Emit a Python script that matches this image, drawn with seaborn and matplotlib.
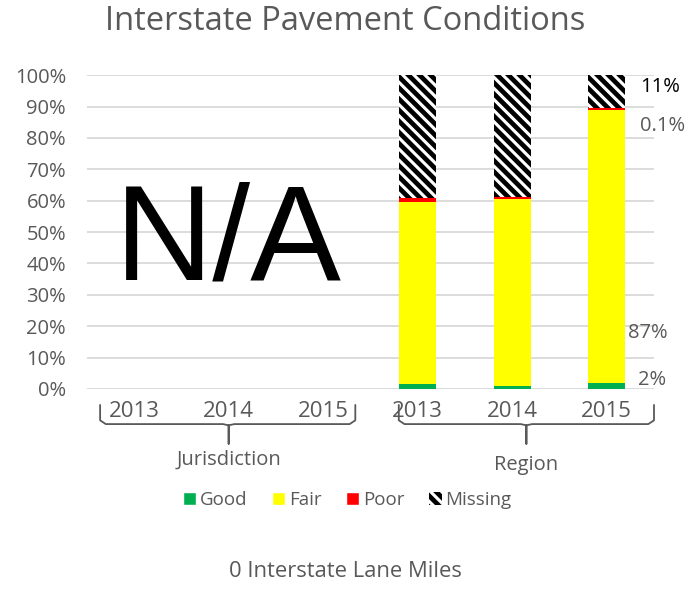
import pandas as pd
import matplotlib.pyplot as plt
import matplotlib.transforms as mtransforms
from matplotlib.patches import Patch
import seaborn as sns

# data (share of lane miles, %)
groups = ["Jurisdiction", "Jurisdiction", "Jurisdiction", "Region", "Region", "Region"]
years = ["2013", "2014", "2015", "2013", "2014", "2015"]
good = [0, 0, 0, 1.5, 1.0, 2.0]
fair = [0, 0, 0, 58.0, 59.5, 87.0]
poor = [0, 0, 0, 1.5, 0.6, 0.5]
missing = [0, 0, 0, 39.0, 38.9, 10.5]
label_texts = ["11%", "0.1%", "87%", "2%"]

colors = {"Good": "#00b050", "Fair": "#ffff00", "Poor": "#ff0000", "Missing": "white"}
gray = "#595959"

sns.set_style("white")
plt.rcParams["font.family"] = ["Open Sans", "DejaVu Sans"]
plt.rcParams["hatch.linewidth"] = 3.4
plt.rcParams["hatch.color"] = "black"

df = pd.DataFrame({"key": [g[0] + y for g, y in zip(groups, years)],
                   "Good": good, "Fair": fair, "Poor": poor, "Missing": missing})
df["c_good"] = df["Good"]
df["c_fair"] = df["c_good"] + df["Fair"]
df["c_poor"] = df["c_fair"] + df["Poor"]
df["c_missing"] = df["c_poor"] + df["Missing"]

fig = plt.figure(figsize=(6.95, 5.92), dpi=100)
ax = fig.add_axes([0.125, 0.343, 0.816, 0.530])

order = list(df["key"])
# draw cumulative bars from top segment down so each covers the one below
sns.barplot(data=df, x="key", y="c_missing", order=order, color="white", width=0.39,
            edgecolor="black", linewidth=0, hatch="\\\\\\", ax=ax, saturation=1)
sns.barplot(data=df, x="key", y="c_poor", order=order, color=colors["Poor"], width=0.39,
            linewidth=0, ax=ax, saturation=1)
sns.barplot(data=df, x="key", y="c_fair", order=order, color=colors["Fair"], width=0.39,
            linewidth=0, ax=ax, saturation=1)
sns.barplot(data=df, x="key", y="c_good", order=order, color=colors["Good"], width=0.39,
            linewidth=0, ax=ax, saturation=1)

ax.set_xlim(-0.5, 5.5)
ax.set_ylim(0, 100)
ax.set_yticks(range(0, 101, 10))
ax.set_yticklabels([f"{v}%" for v in range(0, 101, 10)], fontsize=14.5, color=gray)
ax.set_xticks(range(6))
ax.set_xticklabels(years, fontsize=16, color=gray)
ax.tick_params(axis="both", length=0)
ax.tick_params(axis="y", pad=15)
ax.tick_params(axis="x", pad=9)
ax.set_xlabel("")
ax.set_ylabel("")
ax.yaxis.grid(True, color="#d9d9d9", linewidth=1.3)
ax.set_axisbelow(True)
for s in ax.spines.values():
    s.set_visible(False)

# data labels for region 2015
ax.text(5.35, 96.2, label_texts[0], fontsize=14.5, color="black", va="center", clip_on=False)
ax.text(5.35, 83.8, label_texts[1], fontsize=14.5, color=gray, va="center", clip_on=False)
ax.text(5.22, 17.8, label_texts[2], fontsize=14.5, color=gray, va="center", clip_on=False)
ax.text(5.33, 2.9, label_texts[3], fontsize=14.5, color=gray, va="center", clip_on=False)

# N/A overlay for the jurisdiction
ax.text(1.0, 46, "N/A", fontsize=98, color="black", ha="center", va="center",
        family=["Liberation Sans Narrow", "Liberation Sans", "DejaVu Sans"])

# group brackets under the tick labels
trans = mtransforms.blended_transform_factory(ax.transData, ax.transAxes)
def bracket(x0, x1, xm, label, ly):
    top, bot, stem = -0.051, -0.112, -0.175
    r = 0.06
    xs = [x0, x0, x0 + r, xm - r, xm, xm, xm, xm + r, x1 - r, x1, x1]
    ys = [top, bot + 0.012, bot, bot, bot - 0.004, stem, bot - 0.004, bot, bot, bot + 0.012, top]
    ax.plot(xs, ys, color=gray, linewidth=1.3, transform=trans, clip_on=False)
    ax.text(xm, ly, label, fontsize=14.5, color=gray, ha="center", va="center",
            transform=trans)

bracket(-0.36, 2.34, 1.0, "Jurisdiction", -0.226)
bracket(2.8, 5.5, 4.15, "Region", -0.242)

fig.text(0.497, 0.963, "Interstate Pavement Conditions", fontsize=23.5, color=gray,
         ha="center", va="center")

handles = [Patch(facecolor=colors["Good"], label="Good"),
           Patch(facecolor=colors["Fair"], label="Fair"),
           Patch(facecolor=colors["Poor"], label="Poor"),
           Patch(facecolor="white", edgecolor="black", linewidth=0, hatch="\\\\\\", label="Missing")]
leg = fig.legend(handles=handles, loc="center", bbox_to_anchor=(0.5, 0.155), ncol=4,
                 frameon=False, fontsize=13.5, handlelength=0.7, handleheight=0.7,
                 handletextpad=0.2, columnspacing=1.3)
for t in leg.get_texts():
    t.set_color(gray)

fig.text(0.497, 0.034, "0 Interstate Lane Miles", fontsize=15.8, color=gray,
         ha="center", va="center")

fig.savefig("out.png", dpi=100)
